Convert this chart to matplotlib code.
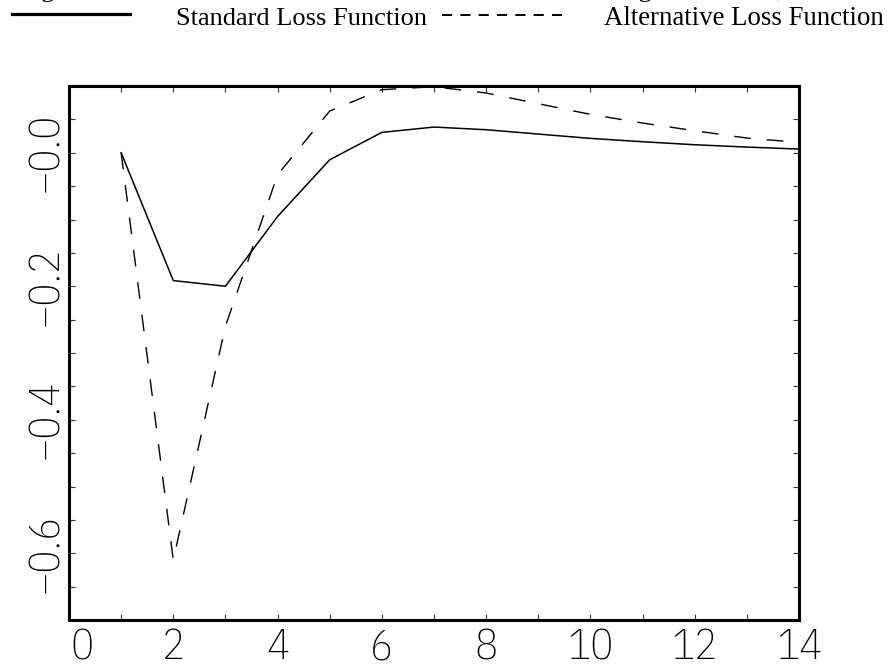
import matplotlib
matplotlib.use("Agg")
import matplotlib.pyplot as plt
from matplotlib.lines import Line2D
from matplotlib.ticker import MultipleLocator, FixedLocator, FixedFormatter
from matplotlib.transforms import ScaledTranslation

# impulse responses
periods = list(range(1, 15))
standard_loss = [0.0, -0.1915, -0.200, -0.0955, -0.0105, 0.0305, 0.0385,
                 0.0345, 0.028, 0.0215, 0.0165, 0.012, 0.0085, 0.0055]
alternative_loss = [0.0, -0.610, -0.260, -0.033, 0.0625, 0.0945, 0.099,
                    0.0895, 0.0735, 0.0575, 0.0445, 0.033, 0.022, 0.0155]

x_ticks = [0, 2, 4, 6, 8, 10, 12, 14]
y_ticks = [-0.6, -0.4, -0.2, 0.0]
y_tick_labels = ["\u22120.6", "\u22120.4", "\u22120.2", "\u22120.0"]

title_text = "Figure 3: Inflation Rate Reaction to a Demand Shock Using Both Rules,"
legend_labels = ["Standard Loss Function", "Alternative Loss Function"]

plt.rcParams["lines.scale_dashes"] = False
serif = ["Liberation Serif", "DejaVu Serif"]
thin = ["IBM Plex Sans Condensed", "DejaVu Sans"]

W, H = 888, 665
fig = plt.figure(figsize=(W / 100, H / 100), dpi=100)

# title, mostly cut off by the top edge as in the source
fig.text(19 / W, 1 + 2.5 / H, title_text, family=serif, fontsize=19,
         ha="left", va="baseline")

# legend drawn by hand across the top
fig.add_artist(Line2D([12 / W, 130 / W], [1 - 14 / H, 1 - 14 / H],
                      transform=fig.transFigure, color="black", lw=2.3))
fig.text(176 / W, 1 - 25 / H, legend_labels[0], family=serif, fontsize=19,
         ha="left", va="baseline")
fig.add_artist(Line2D([442 / W, 562 / W], [1 - 15 / H, 1 - 15 / H],
                      transform=fig.transFigure, color="black", lw=1.4,
                      dashes=(7.3, 5.9)))
fig.text(604 / W, 1 - 25 / H, legend_labels[1], family=serif, fontsize=19.3,
         ha="left", va="baseline")

ax = fig.add_axes([69 / W, 45 / H, 730 / W, 534 / H])
ax.plot(periods, standard_loss, color="black", lw=1.1)
ax.plot(periods, alternative_loss, color="black", lw=1.0, dashes=(12, 11.5))

ax.set_xlim(0, 14)
ax.set_ylim(-0.7, 0.1)

ax.xaxis.set_major_locator(FixedLocator(x_ticks))
ax.xaxis.set_minor_locator(MultipleLocator(1))
ax.yaxis.set_major_locator(FixedLocator(y_ticks))
ax.yaxis.set_major_formatter(FixedFormatter(y_tick_labels))
ax.yaxis.set_minor_locator(MultipleLocator(0.05))

ax.tick_params(which="both", direction="in", top=True, right=True,
               length=4.3, width=0.8, color="#333333")
ax.tick_params(axis="x", pad=6)
ax.tick_params(axis="y", pad=2)

for lab in ax.get_xticklabels():
    lab.set_fontfamily(thin)
    lab.set_fontweight(200)
    lab.set_fontsize(31)
for lab in ax.get_yticklabels():
    lab.set_fontfamily(thin)
    lab.set_fontweight(200)
    lab.set_fontsize(31)
    lab.set_rotation(90)
    lab.set_va("center")

# the first x label sits a little right of the axis
first = ax.get_xticklabels()[0]
first.set_transform(first.get_transform() + ScaledTranslation(0.13, 0, fig.dpi_scale_trans))

for sp in ax.spines.values():
    sp.set_linewidth(2.2)

fig.savefig("out.png", dpi=100)
